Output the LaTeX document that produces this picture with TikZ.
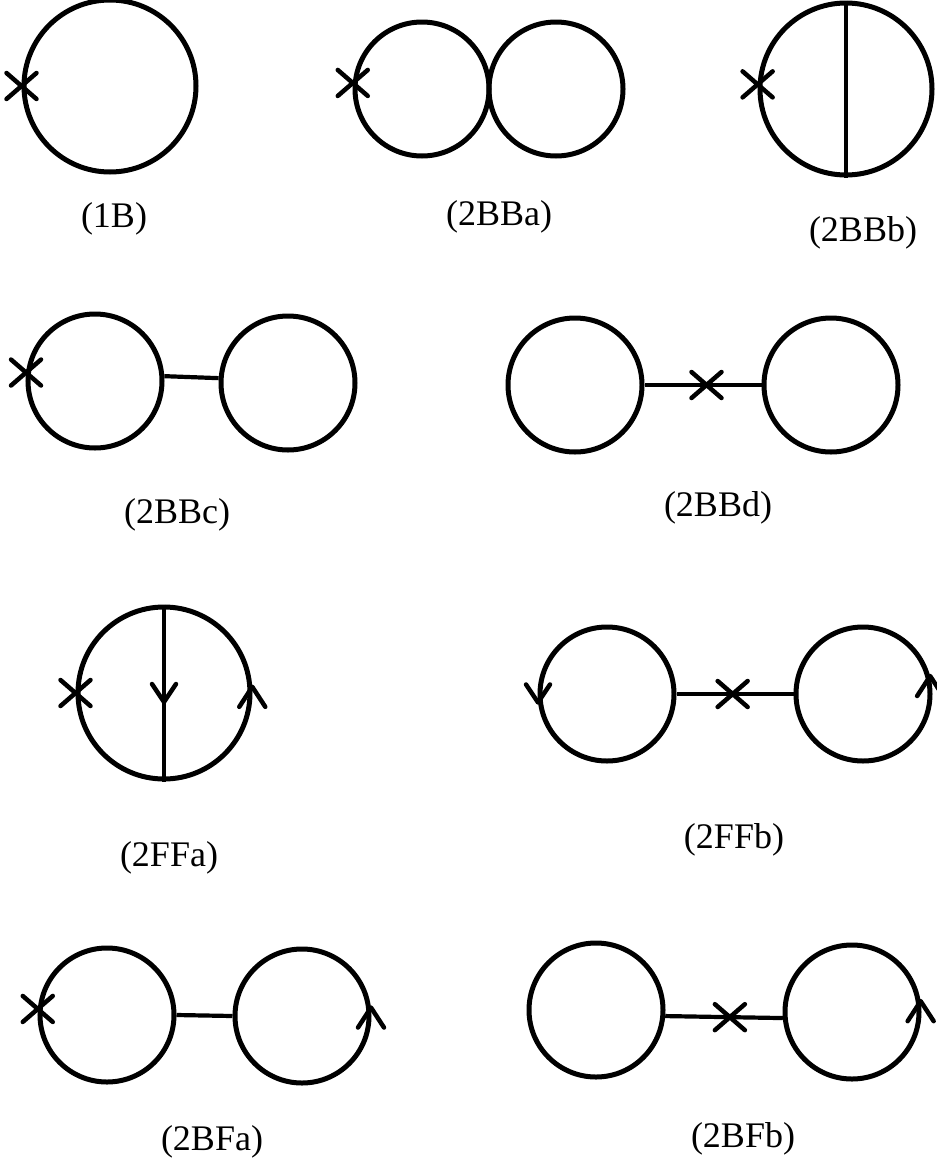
\documentclass[tikz,border=0pt]{standalone}
\usepackage{fontspec}
\setmainfont{Liberation Serif}
\usetikzlibrary{calc}
\tikzset{
  bigloop/.style={circle, draw, line width=5pt, inner sep=0pt, minimum size=172pt},
  smallloop/.style={circle, draw, line width=5pt, inner sep=0pt, minimum size=134pt},
  prop/.style={line width=4.2pt},
  diaglabel/.style={font=\fontsize{36}{40}\selectfont},
  xcross/.pic={\draw[line width=4.5pt, line cap=round] (-15,-13) -- (15,13) (-15,13) -- (15,-13);},
  uparr/.pic={\draw[line width=4.5pt, line cap=round, line join=round] (-13,20) -- (0,0) -- (13,20);},
  downarr/.pic={\draw[line width=4.5pt, line cap=round, line join=round] (-12,-18) -- (0,0) -- (12,-18);},
}
\begin{document}
\begin{tikzpicture}[x=1pt, y=-1pt]
      \useasboundingbox (0,0) rectangle (937,1162);
      %
      % (1B)
      \node[bigloop] (oneB) at (110,86) {};
      \pic at (oneB.west) {xcross};
      \node[diaglabel] (oneBlab) at (114,219) {(1B)};
      %
      % (2BBa)
      \node[smallloop] (bbaL) at (422,89) {};
      \node[smallloop] (bbaR) at (556,89) {};
      \pic at (bbaL.175) {xcross};
      \node[diaglabel] (bbalab) at (499,217) {(2BBa)};
      %
      % (2BBb)
      \node[bigloop] (bbb) at (846,89) {};
      \draw[prop] (bbb.north) -- (bbb.south);
      \pic at (bbb.177) {xcross};
      \node[diaglabel] (bbblab) at (863,233) {(2BBb)};
      %
      % (2BBc)
      \node[smallloop] (bbcL) at (95,381) {};
      \node[smallloop] (bbcR) at (288,383) {};
      \draw[prop] (bbcL.4) -- (bbcR.176);
      \pic at (bbcL.173) {xcross};
      \node[diaglabel] (bbclab) at (177,515) {(2BBc)};
      %
      % (2BBd)
      \node[smallloop] (bbdL) at (575,385) {};
      \node[smallloop] (bbdR) at (831,385) {};
      \draw[prop] (bbdL.east) -- (bbdR.west);
      \pic at ($(bbdL.east)!0.53!(bbdR.west)$) {xcross};
      \node[diaglabel] (bbdlab) at (718,508) {(2BBd)};
      %
      % (2FFa)
      \node[bigloop] (ffa) at (164,693) {};
      \draw[prop] (ffa.north) -- (ffa.south);
      \pic at (ffa.west) {xcross};
      \pic at ([yshift=-9pt]ffa.center) {downarr};
      \pic at (ffa.4) {uparr};
      \node[diaglabel] (ffalab) at (169,858) {(2FFa)};
      %
      % (2FFb)
      \node[smallloop] (ffbL) at (607,694) {};
      \node[smallloop] (ffbR) at (863,694) {};
      \draw[prop] (ffbL.east) -- (ffbR.west);
      \pic at ($(ffbL.east)!0.48!(ffbR.west)$) {xcross};
      \pic at (ffbL.187) {downarr};
      \pic at (ffbR.15) {uparr};
      \node[diaglabel] (ffblab) at (734,840) {(2FFb)};
      %
      % (2BFa)
      \node[smallloop] (bfaL) at (107,1015) {};
      \node[smallloop] (bfaR) at (302,1016) {};
      \draw[prop] (bfaL.east) -- (bfaR.west);
      \pic at (bfaL.175) {xcross};
      \pic at (bfaR.7) {uparr};
      \node[diaglabel] (bfalab) at (212,1142) {(2BFa)};
      %
      % (2BFb)
      \node[smallloop] (bfbL) at (596,1010) {};
      \node[smallloop] (bfbR) at (852,1012) {};
      \draw[prop] (bfbL.-5) -- (bfbR.185);
      \pic at ($(bfbL.-5)!0.55!(bfbR.185)$) {xcross};
      \pic at (bfbR.9) {uparr};
      \node[diaglabel] (bfblab) at (743,1139) {(2BFb)};
      %
    \end{tikzpicture}
\end{document}
